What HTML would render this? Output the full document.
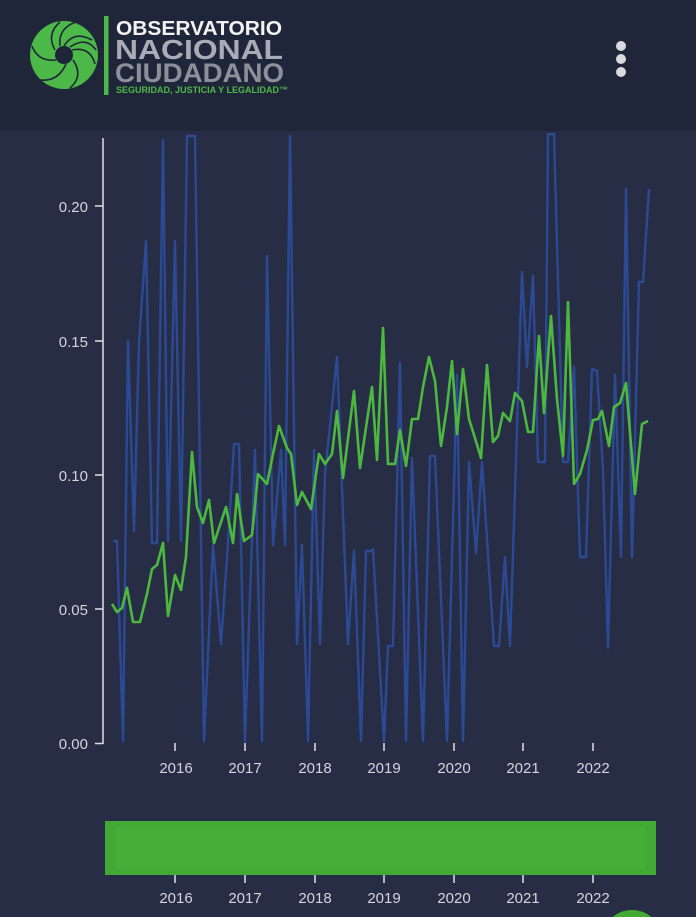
<!DOCTYPE html>
<html style="overflow:hidden"><head><meta charset="utf-8"><style>
html,body{margin:0;padding:0;width:696px;height:917px;overflow:hidden;background:#262d45;font-family:"Liberation Sans",sans-serif;}
svg{display:block}
</style></head><body>
<svg width="696" height="917" xmlns="http://www.w3.org/2000/svg" style="overflow:hidden">
<defs><clipPath id="c"><rect x="104" y="133" width="560" height="612"/></clipPath></defs>
<rect x="0" y="0" width="696" height="917" fill="#262d45"/>
<rect x="0" y="0" width="696" height="131" fill="#20263a"/>
<circle cx="64" cy="55" r="34" fill="#4cb848"/>
<g stroke="#20263a" stroke-width="1.6" fill="none">
<path d="M64 46 Q74 30 92 40"/><path d="M72 50 Q90 46 95 64"/><path d="M73 60 Q84 76 70 88"/>
<path d="M66 64 Q58 82 40 80"/><path d="M56 60 Q38 62 32 46"/><path d="M55 50 Q46 34 60 22"/>
<path d="M60 46 Q58 28 76 22"/><path d="M70 47 Q86 36 96 50"/>
</g>
<circle cx="64" cy="55" r="9" fill="#20263a"/>
<rect x="104" y="16" width="4.5" height="79" fill="#4cb848"/>
<text x="116" y="35" font-size="20" font-weight="bold" fill="#f2f2f2" textLength="166" lengthAdjust="spacingAndGlyphs">OBSERVATORIO</text>
<text x="115" y="59" font-size="28" font-weight="bold" fill="#a9acb7" textLength="168" lengthAdjust="spacingAndGlyphs">NACIONAL</text>
<text x="115" y="82" font-size="27" font-weight="bold" fill="#8d909b" textLength="169" lengthAdjust="spacingAndGlyphs">CIUDADANO</text>
<text x="116" y="93" font-size="9" font-weight="bold" fill="#4cb848" textLength="172" lengthAdjust="spacingAndGlyphs">SEGURIDAD, JUSTICIA Y LEGALIDAD™</text>
<circle cx="621" cy="46" r="5" fill="#d8dae0"/><circle cx="621" cy="59" r="5" fill="#d8dae0"/><circle cx="621" cy="72" r="5" fill="#d8dae0"/>
<g stroke="#dfe1e7" stroke-width="1.5">
<line x1="103" y1="138" x2="103" y2="744"/>
<line x1="95" y1="743.5" x2="103" y2="743.5"/><line x1="95" y1="609" x2="103" y2="609"/><line x1="95" y1="475" x2="103" y2="475"/><line x1="95" y1="341" x2="103" y2="341"/><line x1="95" y1="206" x2="103" y2="206"/>
<line x1="175" y1="743" x2="175" y2="751"/><line x1="245" y1="743" x2="245" y2="751"/><line x1="315" y1="743" x2="315" y2="751"/><line x1="384" y1="743" x2="384" y2="751"/><line x1="454" y1="743" x2="454" y2="751"/><line x1="523" y1="743" x2="523" y2="751"/><line x1="593" y1="743" x2="593" y2="751"/>
<line x1="175" y1="873" x2="175" y2="883"/><line x1="245" y1="873" x2="245" y2="883"/><line x1="315" y1="873" x2="315" y2="883"/><line x1="384" y1="873" x2="384" y2="883"/><line x1="454" y1="873" x2="454" y2="883"/><line x1="523" y1="873" x2="523" y2="883"/><line x1="593" y1="873" x2="593" y2="883"/>
</g>
<g fill="#d2d5dd" font-size="15" text-anchor="end">
<text x="88" y="749">0.00</text><text x="88" y="615">0.05</text><text x="88" y="481">0.10</text><text x="88" y="347">0.15</text><text x="88" y="212">0.20</text>
</g>
<g fill="#d2d5dd" font-size="15" text-anchor="middle">
<text x="176" y="773">2016</text><text x="245" y="773">2017</text><text x="315" y="773">2018</text><text x="384" y="773">2019</text><text x="454" y="773">2020</text><text x="523" y="773">2021</text><text x="593" y="773">2022</text>
<text x="176" y="903">2016</text><text x="245" y="903">2017</text><text x="315" y="903">2018</text><text x="384" y="903">2019</text><text x="454" y="903">2020</text><text x="523" y="903">2021</text><text x="593" y="903">2022</text>
</g>
<g clip-path="url(#c)" fill="none" stroke-linejoin="round">
<polyline stroke="#2c4a94" stroke-width="2.4" points="113,541 117,541 123,741 128,341 134,531 139,343 146,241 152,543 157,543 163,140 168,541 175,241 181,541 187,136 195,136 204,741 213,545 221,644 228,543 234,444 239,444 245,741 255,450 262,741 267,256 273,545 281,450 285,545 290,136 297,644 302,545 308,741 314,450 320,644 325,474 337,357 348,644 354,551 361,741 366,551 371,551 373,549 384,741 388,646 393,646 400,363 406,741 412,458 423,741 430,456 435,456 447,741 457,375 463,741 469,462 476,553 482,462 494,646 499,646 505,557 510,646 522,272 527,367 533,276 538,462 545,462 548,134 554,134 563,462 568,462 574,367 580,557 586,557 592,369 597,371 603,470 608,648 615,375 621,557 626,189 632,557 639,282 643,282 649,189"/>
<polyline stroke="#4cb83f" stroke-width="2.6" points="112,604 117,612 122,608 127,588 133,622 140,622 147,594 152,569 157,565 163,543 168,616 175,575 181,590 186,557 192,452 197,507 203,523 209,500 214,543 226,507 233,543 237,494 244,541 252,535 258,474 267,484 273,454 279,426 287,448 291,454 297,505 302,492 311,509 319,454 325,464 332,454 337,411 343,478 354,391 360,468 372,387 377,460 383,328 388,464 395,464 400,430 406,466 412,419 418,419 423,387 429,357 435,381 441,446 447,407 452,361 457,434 463,369 469,419 475,438 481,458 487,365 493,442 498,436 503,413 510,421 515,393 522,401 528,432 533,432 539,336 544,413 551,316 557,399 563,456 568,302 574,484 580,474 587,450 593,420 598,419 602,411 609,446 614,407 620,403 626,383 635,494 642,424 648,421"/>
</g>
<rect x="105" y="821" width="551" height="54" fill="#43a935"/>
<rect x="116" y="826" width="529" height="44" fill="#46ad36"/>
<path d="M612.7 917 A30 30 0 0 1 651.3 917 Z" fill="#43a935"/>
</svg>
</body></html>
